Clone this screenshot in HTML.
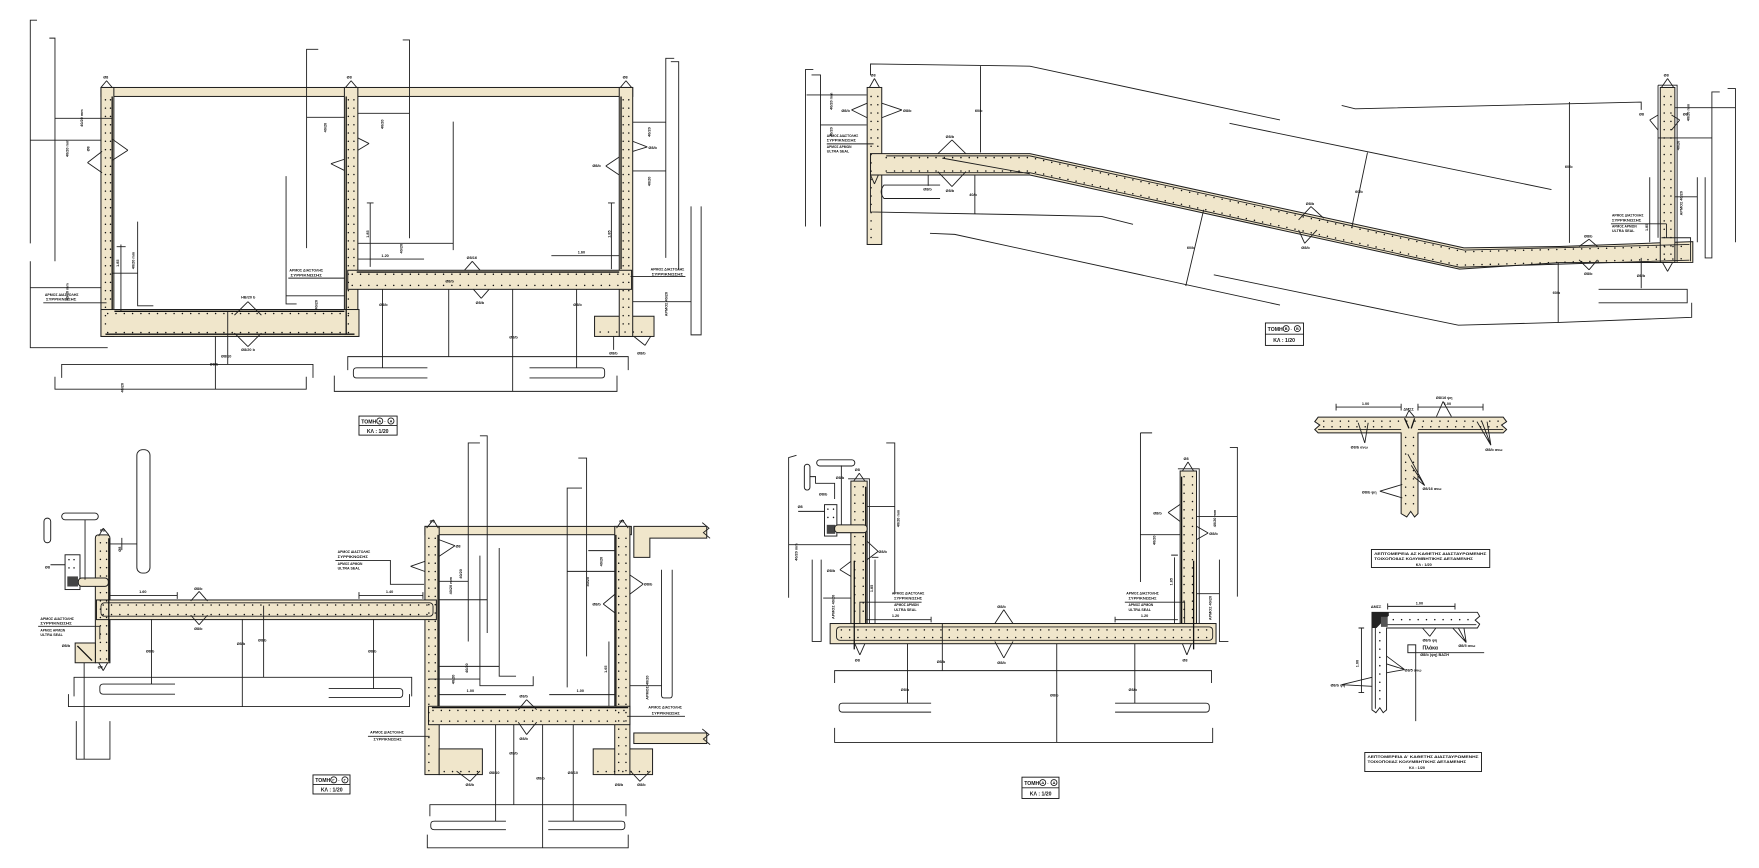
<!DOCTYPE html>
<html><head><meta charset="utf-8"><style>
html,body{margin:0;padding:0;background:#fff;overflow:hidden}
svg{display:block}
.b{fill:#f0e6cb;stroke:#1e1e1e;stroke-width:.9}
.w{fill:#fff;stroke:#1e1e1e;stroke-width:.85}
.l{fill:none;stroke:#1e1e1e;stroke-width:.8}
.k{fill:none;stroke:#111;stroke-width:1.15}
.d{fill:none;stroke:#111;stroke-width:1.35;stroke-linecap:round;stroke-dasharray:0 7.4}
text{font-family:"Liberation Sans","DejaVu Sans",sans-serif;font-size:3.4px;font-weight:bold;fill:#111}
.t5{font-size:4.6px}
.tb{fill:#fff;stroke:#111;stroke-width:.8}
</style></head><body>
<svg xmlns="http://www.w3.org/2000/svg" width="1759" height="868" viewBox="0 0 1568 774" preserveAspectRatio="none">

<!-- ================= SECTION A-A ================= -->
<rect class="b" x="90" y="78" width="474" height="8"/>
<rect class="b" x="90" y="78" width="11.5" height="222"/>
<rect class="b" x="307" y="78" width="12" height="222"/>
<rect class="b" x="530" y="282" width="53" height="18"/>
<rect class="b" x="552" y="78" width="12" height="222"/>
<rect class="b" x="90" y="276" width="230" height="24"/>
<rect class="b" x="310" y="241" width="253" height="17"/>
<path class="d" d="M94,89V296M98.5,89V272M310.5,89V296M315.5,89V238M555.5,89V296M560.5,89V296M96,279.5H316M96,296.5H316M314,244.5H558M314,254.5H558M535,296H579"/>
<path class="k" d="M100,86V276M308.6,86V298M553.6,86V240M318,242.6H552M102,277.6H307M94,298H316"/>
<path class="l" d="M78,145L91,135M78,145L91,154M114,134L100,124M114,134L100,143M329,128L319,123M329,128L319,134M295,146L307,142M295,146L307,152M577,131L564,126M577,131L564,135M540,148L552,140M540,148L552,156M95,72L90,78M95,72L100,78M313,72L308,78M313,72L318,78M558,72L553,78M558,72L563,78M221,269L209,281M221,269L233,281M221,309L209,297M221,309L233,297M421,233L414,241M421,233L428,241M429,266L422,258M429,266L436,258M575,308L565,300M575,308L580,300"/>
<path class="l" d="M33,18H27V217M27,233V310H96M44,34H49V233M49,105.5H99.5M27,125H90.5M27,256.5H90.5M107.8,218V278M104,220H112M122.7,197.6V272.7H136.7M99.5,243.6H122.7M255,157V271H264.4M283.7,44H273.3V221.3M273.3,104.6H307.5M255,263.8H307.5M359,35.6H365V212.4M319,101H365M404,108.4V223M319,217H404M319,231H378M330,181V238M327,181H333M545,181V240M542,181H548M491.5,228H552M601,52H593.5V230M598,55H605V241M616,184V298.6H625V184M564,109H593.5M564,152.4H593.5M564,269H616M192,300V347M203,278V325M55,337V325H279V337M49,336V347H273V336M310,330V318H560V330M298,335V349H550V335M381,328H318Q315,328 315,331V334Q315,337 318,337H381M472,328H536Q539,328 539,331V334Q539,337 536,337H472M341,258V328M400,258V318M457,258V349M514,258V328M547,300V312M38.6,270H95M257,248H307.5M562,246.6H611"/>
<text x="40" y="264" textLength="30" lengthAdjust="spacingAndGlyphs">ΑΡΜΟΣ ΔΙΑΣΤΟΛΗΣ</text>
<text x="41" y="268" textLength="27" lengthAdjust="spacingAndGlyphs">ΣΥΡΡΙΚΝΩΣΗΣ</text>
<text x="258" y="242" textLength="30" lengthAdjust="spacingAndGlyphs">ΑΡΜΟΣ ΔΙΑΣΤΟΛΗΣ</text>
<text x="259" y="246.5" textLength="28" lengthAdjust="spacingAndGlyphs">ΣΥΡΡΙΚΝΩΣΗΣ</text>
<text x="580" y="241" textLength="30" lengthAdjust="spacingAndGlyphs">ΑΡΜΟΣ ΔΙΑΣΤΟΛΗΣ</text>
<text x="581" y="245.5" textLength="28" lengthAdjust="spacingAndGlyphs">ΣΥΡΡΙΚΝΩΣΗΣ</text>
<text x="92" y="70">Ø8</text><text x="309" y="70">Ø8</text><text x="555" y="70">Ø8</text>
<text x="215" y="266">HB/20 b</text><text x="215" y="313">Ø8/20 b</text>
<text x="416" y="231">Ø8/16</text><text x="424" y="271">Ø8/b</text>
<text x="197" y="319">Ø8/10</text><text x="187" y="326">Ø8/b</text>
<text x="338" y="273">Ø8/b</text><text x="397" y="252">Ø8/b</text><text x="454" y="302">Ø8/b</text><text x="511" y="273">Ø8/b</text>
<text x="543" y="316">Ø8/b</text><text x="568" y="316">Ø8/b</text><text x="528" y="149">Ø8/b</text><text x="578" y="133">Ø8/b</text>
<text transform="translate(74,113) rotate(-90)">40/20 mm</text>
<text transform="translate(61,140) rotate(-90)">40/20 mm</text>
<text transform="translate(61,268) rotate(-90)">40/20 mm</text>
<text transform="translate(120,240) rotate(-90)">40/20 mm</text>
<text transform="translate(291,118) rotate(-90)">40/20</text>
<text transform="translate(342,115) rotate(-90)">40/20</text>
<text transform="translate(283,276) rotate(-90)">40/20</text>
<text transform="translate(580,122) rotate(-90)">40/20</text>
<text transform="translate(580,166) rotate(-90)">40/20</text>
<text transform="translate(595,282) rotate(-90)">ΑΡΜΟΣ 40/20</text>
<text transform="translate(359,226) rotate(-90)">40/20</text>
<text transform="translate(106,238) rotate(-90)">1.85</text>
<text transform="translate(329,212) rotate(-90)">1.85</text>
<text transform="translate(544,212) rotate(-90)">1.85</text>
<text x="340" y="229">1.20</text><text x="515" y="226">1.60</text>
<text x="80" y="135" transform="rotate(-90,80,135)">Ø8</text>
<rect class="tb" x="320" y="371" width="34" height="17"/><path class="l" d="M320,379.5H354"/>
<text class="t5" x="322" y="377.6">ΤΟΜΗ</text>
<circle cx="338.5" cy="375.4" r="2.7" class="l"/><text x="337.3" y="376.8">Α</text><text x="342.5" y="376.8">-</text>
<circle cx="348.5" cy="375.4" r="2.7" class="l"/><text x="347.3" y="376.8">Α</text>
<text class="t5" x="327" y="386">ΚΛ : 1/20</text>

<!-- ================= SECTION B-B ================= -->
<rect class="b" x="773" y="78" width="13" height="140"/>
<path class="b" d="M776,137H918L1305,221L1390,219.8L1509,215.5V234L1390,234.2L1301,240L918,156H776Z"/>
<rect class="b" x="1480" y="78" width="13" height="156"/>
<path class="l" d="M1478,76H1495V234M1478,76V212"/>
<path class="d" d="M776.5,86V214M782.5,86V134M1483.5,86V230M1489.5,86V230M790,140.5H918L1305,224.5L1505,219.5M790,152.5H918L1301,236.5L1505,230.5"/>
<path class="l" d="M790,139H918L1305,223L1506,218M790,154H918L1301,238.3L1506,232M1481,212H1507V233M840,141L918,155"/>
<path class="l" d="M725,62H718V202M723.4,66.8H731.4V202M719,84.7H772.5M731.4,111.4H772.5M776,67V57L918,59L1141,107M1096,110L1383,169M1196,94L1208,97L1463,91V98M776,156V189L918,191.6L982,193L1010,200M829,208L851,209L1141,272M1082,245L1300,290L1390,287.5L1508,283V270M1425,258H1504V270H1425M838,165H788Q783,171 788,177H838M874,59V136M869,156V190.7M827.4,156V165.8M1219,136L1205,203M1073,187L1057,255M1399,91V216.6M1470.6,158V216M1463,230V257M1389,234V288M1533,82H1526V230H1520V158M1513,158V216M1540,79H1547V216M1493,96H1547M1478,123H1526M1493,175.5H1513M737,128.3H778.7M1436,199.6H1485.5M1485.5,199.6V212"/>
<path class="l" d="M759,98L773,92M759,98L773,105M804,98L786,92M804,98L786,105M848.6,124.8L836,137M848.6,124.8L861,137M848.6,166.4L836,153M848.6,166.4L861,153M1168.6,184.2L1157.6,196M1168.6,184.2L1180,194.6M1163,217L1157.6,205M1163,217L1174,205M1416.5,213.3L1407.6,219.8M1416.5,213.3L1424,219.8M1416.5,240.6L1407.6,231.7M1416.5,240.6L1424,231.7M1470.6,107L1478,102.5M1470.6,107L1478,116M1497.3,107L1490,102.5M1497.3,107L1490,116M779.5,70L775,78M779.5,70L784,78M1486.5,70L1481,78M1486.5,70L1492,78M1486.5,242L1482,234M1486.5,242L1491,234M779.5,164L776,156M779.5,164L783,156"/>
<text x="737" y="122" textLength="28" lengthAdjust="spacingAndGlyphs">ΑΡΜΟΣ ΔΙΑΣΤΟΛΗΣ</text>
<text x="737" y="126" textLength="26" lengthAdjust="spacingAndGlyphs">ΣΥΡΡΙΚΝΩΣΗΣ</text>
<text x="737" y="132" textLength="22" lengthAdjust="spacingAndGlyphs">ΑΡΜΟΣ ΑΡΜΩΝ</text>
<text x="737" y="136" textLength="20" lengthAdjust="spacingAndGlyphs">ULTRA SEAL</text>
<text x="1437" y="193" textLength="28" lengthAdjust="spacingAndGlyphs">ΑΡΜΟΣ ΔΙΑΣΤΟΛΗΣ</text>
<text x="1437" y="197.5" textLength="26" lengthAdjust="spacingAndGlyphs">ΣΥΡΡΙΚΝΩΣΗΣ</text>
<text x="1437" y="203" textLength="22" lengthAdjust="spacingAndGlyphs">ΑΡΜΟΣ ΑΡΜΩΝ</text>
<text x="1437" y="207" textLength="20" lengthAdjust="spacingAndGlyphs">ULTRA SEAL</text>
<text x="776" y="68">Ø8</text><text x="1483" y="68">Ø8</text>
<text x="750" y="100">Ø8/b</text><text x="805" y="100">Ø8/b</text>
<text x="843" y="123">Ø8/b</text><text x="843" y="171">Ø8/b</text>
<text x="1164" y="183">Ø8/b</text><text x="1160" y="222">Ø8/b</text>
<text x="1412" y="212">Ø8/b</text><text x="1412" y="245">Ø8/b</text>
<text x="1461" y="103">Ø8</text><text x="1500" y="103">Ø8</text>
<text x="869" y="100">60/b</text><text x="864" y="175">40/b</text><text x="823" y="170">Ø8/b</text>
<text x="1208" y="172">60/b</text><text x="1058" y="222">60/b</text>
<text x="1395" y="150">60/b</text><text x="1384" y="262">60/b</text><text x="1459" y="247">Ø8/b</text>
<text transform="translate(742,98) rotate(-90)">40/20 mm</text>
<text transform="translate(742,122) rotate(-90)">40/20</text>
<text transform="translate(1506,108) rotate(-90)">40/20 mm</text>
<text transform="translate(1497,134) rotate(-90)">40/20</text>
<text transform="translate(1500,192) rotate(-90)">ΑΡΜΟΣ 40/20</text>
<text transform="translate(1469,206) rotate(-90)">1.85</text>
<rect class="tb" x="1128" y="288" width="34" height="20"/><path class="l" d="M1128,298H1162"/>
<text class="t5" x="1130" y="295">ΤΟΜΗ</text>
<circle cx="1146.5" cy="293" r="2.7" class="l"/><text x="1145.3" y="294.3">Β</text><text x="1150.5" y="294.3">-</text>
<circle cx="1156.5" cy="293" r="2.7" class="l"/><text x="1155.3" y="294.3">Β</text>
<text class="t5" x="1135" y="305">ΚΛ : 1/20</text>

<!-- ================= SECTION C-C ================= -->
<rect class="b" x="378.8" y="469.4" width="184" height="7.4"/>
<rect class="b" x="378.8" y="469.4" width="12.7" height="221.3"/>
<rect class="b" x="391.5" y="667.8" width="38.5" height="22.9"/>
<rect class="b" x="528.8" y="667.8" width="52.9" height="22.9"/>
<rect class="b" x="548" y="469.4" width="13.5" height="221.3"/>
<rect class="b" x="382" y="629.8" width="179.5" height="16.4"/>
<path class="b" d="M565,469.4H630V479.8H579.3V497H565Z"/>
<rect class="b" x="565" y="653.6" width="65" height="9.4"/>
<path class="l" d="M626,466L632,471L627,475L633,480M626,650L632,655L627,659L633,664"/>
<path class="b" d="M85,480Q85,477 88,477H95Q98,477 98,480V591H85Z"/>
<path class="b" d="M67,573.4H85V591H67Z"/>
<path class="k" d="M69,576L82,589"/>
<rect class="b" x="86" y="535" width="303" height="17.5"/>
<rect class="l" x="90" y="537.5" width="296" height="12" rx="3"/>
<path class="d" d="M382.3,480V688M388,480V628M551.5,480V688M558,480V688M92,539.5H384M92,548H384M386,633.5H558M386,643H558M89.5,484V588M95,484V588M396,688H428M533,688H578"/>
<path class="k" d="M390.5,477V630M549,477V630M385,631H560M97,480V590"/>
<rect class="w" x="122" y="401" width="11.7" height="110" rx="5"/>
<rect class="w" x="55" y="457.5" width="32.6" height="6" rx="3"/>
<rect class="w" x="39.2" y="462" width="6" height="22" rx="3"/>
<rect class="w" x="58" y="494.7" width="13.3" height="31"/>
<path class="d" d="M61.5,499V512M66,499V512"/>
<rect x="60" y="514" width="9.5" height="9" fill="#444"/>
<rect class="b" x="69.8" y="515.4" width="26.8" height="7.5" rx="3"/>
<path class="l" d="M75.8,463.5V517M45,503.6H58M98,485H122M108.6,479.6V490.5M68,643V677H98V643M75,591V677M66,621V604H367V621M61,619V630H365V619M156,610H92Q89,610 89,613V616Q89,619 92,619H156M293,614H356Q359,614 359,617V619Q359,622 356,622H293M135,552V610M216,552V630M235,540V604M333,552V614M98,531H158M320,531H377M98,528V534M158,528V534M320,528V534M377,528V534M34,558.5H89M89,558.5V570M299,499.7H348V521H378"/>
<path class="l" d="M427.8,395H417.4V572M427.8,388.6H434.3V564.5M427.8,495.5V611.4H475.3V603M445,488.7V603H460M515.5,408.5H522.9V585.3M518.8,435.2H505.6V612.9M589.7,508V620Q589.7,622.4 592,622.4H597Q599.2,622.4 599.2,620V508M391.5,518.4H417.4M391.5,534.8H434.3M391.5,594.2H445M382,605.5H427.8M391.5,619.4H451M489.6,619.4H548M524.4,491H548M505.6,509.5H548M561.5,611.4H589.7M542.8,572V629.8M383.2,727.9V717.5H558V727.9M380.9,744.2V756H560V744.2M451,732.3H387Q384,732.3 384,735V737Q384,739.8 387,739.8H451M488.7,732.3H554Q557,732.3 557,735V737Q557,739.8 554,739.8H488.7M441.8,646V732.3M458,646V717.5M483.7,646V756M511,646V732.3M328,656.6H383M559,638.7H610.6"/>
<path class="l" d="M405.5,486.6L391.5,481.3M405.5,486.6L391.5,496M366,505L378.5,500.6M366,505L378.5,509.5M573.4,520.8L561.2,512.5M573.4,520.8L561.2,530M537.7,538.6L548,530M537.7,538.6L548,546.4M386.2,463.5L380.3,470.9M386.2,463.5L390.7,470.9M554.8,463.5L549.6,470.9M554.8,463.5L560,470.9M469.4,623.9L462,632.8M469.4,623.9L478.4,632.8M469.4,655L462,644M469.4,655L478.4,644M419,696.7L407,687.6M419,696.7L427.8,687.6M570.4,696.7L562,687.6M570.4,696.7L579.8,687.6M177.5,527.4L170,536M177.5,527.4L185,536M177.5,557L170,548.5M177.5,557L185,548.5M92,471L88,478M92,471L97,477M92,598L88,591M92,598L96,591"/>
<text x="36" y="553" textLength="30" lengthAdjust="spacingAndGlyphs">ΑΡΜΟΣ ΔΙΑΣΤΟΛΗΣ</text>
<text x="36" y="557" textLength="28" lengthAdjust="spacingAndGlyphs">ΣΥΡΡΙΚΝΩΣΗΣ</text>
<text x="36" y="563" textLength="22" lengthAdjust="spacingAndGlyphs">ΑΡΜΟΣ ΑΡΜΩΝ</text>
<text x="36" y="567" textLength="20" lengthAdjust="spacingAndGlyphs">ULTRA SEAL</text>
<text x="301" y="493" textLength="29" lengthAdjust="spacingAndGlyphs">ΑΡΜΟΣ ΔΙΑΣΤΟΛΗΣ</text>
<text x="301" y="497.5" textLength="27" lengthAdjust="spacingAndGlyphs">ΣΥΡΡΙΚΝΩΣΗΣ</text>
<text x="301" y="504" textLength="22" lengthAdjust="spacingAndGlyphs">ΑΡΜΟΣ ΑΡΜΩΝ</text>
<text x="301" y="508" textLength="20" lengthAdjust="spacingAndGlyphs">ULTRA SEAL</text>
<text x="330" y="654" textLength="30" lengthAdjust="spacingAndGlyphs">ΑΡΜΟΣ ΔΙΑΣΤΟΛΗΣ</text>
<text x="333" y="660.5" textLength="25" lengthAdjust="spacingAndGlyphs">ΣΥΡΡΙΚΝΩΣΗΣ</text>
<text x="578" y="632" textLength="30" lengthAdjust="spacingAndGlyphs">ΑΡΜΟΣ ΔΙΑΣΤΟΛΗΣ</text>
<text x="581" y="637.3" textLength="25" lengthAdjust="spacingAndGlyphs">ΣΥΡΡΙΚΝΩΣΗΣ</text>
<text x="89" y="474">Ø8</text><text x="383" y="466">Ø8</text><text x="552" y="466">Ø8</text>
<text x="173" y="526">Ø8/b</text><text x="173" y="562">Ø8/b</text><text x="463" y="622">Ø8/b</text><text x="463" y="660">Ø8/b</text>
<text x="415" y="701">Ø8/b</text><text x="568" y="701">Ø8/b</text><text x="548" y="701">Ø8/b</text>
<text x="406" y="488">Ø8</text><text x="574" y="522">Ø8/b</text><text x="528" y="540">Ø8/b</text>
<text x="40" y="507">Ø8</text><text x="55" y="577">Ø8/b</text><text x="87" y="596">Ø8</text>
<text x="130" y="582">Ø8/b</text><text x="211" y="575">Ø8/b</text><text x="230" y="572">Ø8/b</text><text x="328" y="582">Ø8/b</text>
<text x="436" y="690">Ø8/10</text><text x="454" y="673">Ø8/b</text><text x="478" y="695">Ø8/b</text><text x="506" y="690">Ø8/10</text>
<text x="124" y="529">1.60</text><text x="344" y="529">1.40</text><text x="416" y="617">1.00</text><text x="514" y="617">1.00</text>
<text transform="translate(403,530) rotate(-90)">40/20 mm</text>
<text transform="translate(412,516) rotate(-90)">40/20</text>
<text transform="translate(417,600) rotate(-90)">40/20</text>
<text transform="translate(405,610) rotate(-90)">40/20</text>
<text transform="translate(537,505) rotate(-90)">40/20</text>
<text transform="translate(525,523) rotate(-90)">40/20</text>
<text transform="translate(541,600) rotate(-90)">1.65</text>
<text transform="translate(578,624) rotate(-90)">ΑΡΜΟΣ 40/20</text>
<text transform="translate(110,350) rotate(-90)">40/20</text>
<text transform="translate(108,492) rotate(-90)">Ø8</text>
<rect class="tb" x="279" y="691" width="33" height="17"/><path class="l" d="M279,699.5H312"/>
<text class="t5" x="281" y="697.5">ΤΟΜΗ</text>
<circle cx="297.5" cy="695.4" r="2.7" class="l"/><text x="296.3" y="696.8">Γ</text><text x="301.5" y="696.8">-</text>
<circle cx="307.5" cy="695.4" r="2.7" class="l"/><text x="306.3" y="696.8">Γ</text>
<text class="t5" x="286" y="706">ΚΛ : 1/20</text>

<!-- ================= SECTION D-D ================= -->
<rect class="b" x="758.5" y="429" width="14.5" height="127"/>
<rect class="b" x="1052" y="420" width="14.6" height="136"/>
<path class="l" d="M756,427H775V556M1050,418H1069V556"/>
<rect class="b" x="740" y="556" width="344" height="18"/>
<rect class="l" x="745.7" y="559" width="335.3" height="12" rx="3"/>
<path class="d" d="M762,434V552M769.5,434V552M1055.5,425V552M1063,425V552M750,561.7H1078M750,568.5H1078"/>
<path class="k" d="M771.7,434V556M1053.3,425V556M761.5,500V579M1064,500V579"/>
<rect class="w" x="728" y="410" width="34" height="5.5" rx="2.7"/>
<rect class="w" x="717" y="414" width="5" height="23" rx="2.5"/>
<rect class="w" x="735" y="450" width="11" height="28"/>
<path class="d" d="M738,454V466M743,454V466"/>
<rect x="737" y="468" width="7.5" height="8" fill="#444"/>
<rect class="b" x="744" y="468" width="29" height="7" rx="3"/>
<path class="l" d="M750,415V468M722,425H727V431H744V445M711.5,456H735M710,406L703,408V533M724,499V572H732V499M790,395H797.6V530M1016.6,386H1027M1016.6,386V519M1096.3,399H1103V532M1087,499V572H1095M773,451.6H797.6M703,485.7H758.5M733.8,533.3H758.5M1016.6,476.8H1052M1066.6,460.5H1103M1066.6,529.4H1087M780,499V556M1047,497V556M772,552.6H830M994,552.6H1050M744,609V598H1080V609M744,649V662H1081V649M830,627H751Q748,627 748,630V632Q748,635 751,635H830M994,627H1075Q1078,627 1078,630V632Q1078,635 1075,635H994M809,574V627M840,556V598M942,574V662M1011.6,574V627M821.5,537H766.5V556M1002.7,537H1056V556M777,497H783M1044,495H1050M830,550V555M994,550V555"/>
<path class="l" d="M894.8,543.7L886.8,556M894.8,543.7L903,556M894.8,586.7L886.8,572M894.8,586.7L903,572M1041.3,457L1052,449.8M1041.3,457L1052,465M1077,475.3L1066.6,469.3M1077,475.3L1066.6,481.2M782.8,491.7L773,482.7M782.8,491.7L773,499M748.7,508L758.5,500.6M748.7,508L758.5,514M766,422L761,429M766,422L771,429M1059,412L1054,420M1059,412L1064,420M766.5,584L762,574M766.5,584L771,574M1058,584L1054,574M1058,584L1062,574"/>
<text x="795" y="530" textLength="29" lengthAdjust="spacingAndGlyphs">ΑΡΜΟΣ ΔΙΑΣΤΟΛΗΣ</text>
<text x="797" y="534.5" textLength="25" lengthAdjust="spacingAndGlyphs">ΣΥΡΡΙΚΝΩΣΗΣ</text>
<text x="797" y="540.5" textLength="22" lengthAdjust="spacingAndGlyphs">ΑΡΜΟΣ ΑΡΜΩΝ</text>
<text x="797" y="545" textLength="20" lengthAdjust="spacingAndGlyphs">ULTRA SEAL</text>
<text x="1004" y="530" textLength="29" lengthAdjust="spacingAndGlyphs">ΑΡΜΟΣ ΔΙΑΣΤΟΛΗΣ</text>
<text x="1006" y="534.5" textLength="25" lengthAdjust="spacingAndGlyphs">ΣΥΡΡΙΚΝΩΣΗΣ</text>
<text x="1006" y="540.5" textLength="22" lengthAdjust="spacingAndGlyphs">ΑΡΜΟΣ ΑΡΜΩΝ</text>
<text x="1006" y="545" textLength="20" lengthAdjust="spacingAndGlyphs">ULTRA SEAL</text>
<text x="762" y="420">Ø8</text><text x="1055" y="410">Ø8</text><text x="762" y="590">Ø8</text><text x="1054" y="590">Ø8</text>
<text x="889" y="542">Ø8/b</text><text x="889" y="592">Ø8/b</text>
<text x="1028" y="459">Ø8/b</text><text x="1078" y="477">Ø8/b</text><text x="783" y="493">Ø8/b</text><text x="737" y="510">Ø8/b</text>
<text x="711" y="453">Ø8</text><text x="745" y="427">Ø8/b</text><text x="730" y="442">Ø8/b</text>
<text x="803" y="616">Ø8/b</text><text x="835" y="591">Ø8/b</text><text x="936" y="621">Ø8/b</text><text x="1006" y="616">Ø8/b</text>
<text x="795" y="550">1.20</text><text x="1017" y="550">1.20</text>
<text transform="translate(802,470) rotate(-90)">40/20 mm</text>
<text transform="translate(711,500) rotate(-90)">40/20 mm</text>
<text transform="translate(744,552) rotate(-90)">ΑΡΜΟΣ 40/20</text>
<text transform="translate(1030,486) rotate(-90)">40/20</text>
<text transform="translate(1084,470) rotate(-90)">40/20 mm</text>
<text transform="translate(1080,553) rotate(-90)">ΑΡΜΟΣ 40/20</text>
<text transform="translate(778,528) rotate(-90)">1.85</text>
<text transform="translate(1045,522) rotate(-90)">1.85</text>
<rect class="tb" x="911" y="693" width="33" height="19"/><path class="l" d="M911,702.5H944"/>
<text class="t5" x="913" y="700">ΤΟΜΗ</text>
<circle cx="929.5" cy="697.8" r="2.7" class="l"/><text x="928.3" y="699.2">Δ</text><text x="933.5" y="699.2">-</text>
<circle cx="939.5" cy="697.8" r="2.7" class="l"/><text x="938.3" y="699.2">Δ</text>
<text class="t5" x="918" y="709.5">ΚΛ : 1/20</text>

<!-- ================= DETAIL T ================= -->
<path class="b" d="M1175,372H1340L1343,376L1338.5,379L1343,383L1340,386H1264V458L1261,461L1257.5,456L1254,461L1249,458V386H1175L1172,383L1176.5,379L1172,376Z"/>
<path class="l" d="M1175,383H1249M1264,383H1340"/>
<path class="d" d="M1180,375.5H1336M1180,380.5H1246M1268,380.5H1336M1253,390V455M1260,390V455"/>
<path class="k" d="M1252,373L1256,382M1261,373L1258,382"/>
<path class="l" d="M1191,363H1249M1264,363H1322M1191,360V366M1249,360V366M1264,360V366M1322,360V366M1216.6,395L1210.7,377M1216.6,395L1219.6,377M1329,397L1316.6,376M1329,397L1321,376M1329,397L1325.6,376M1286.4,358L1280.5,371.4M1286.4,358L1293.8,371.4M1270,433L1255,405M1270,433L1258,415M1270,433L1260,425M1230,438L1250,432M1230,438L1250,444M1256,366L1253,372M1256,366L1261,372"/>
<text x="1214" y="361">1.00</text><text x="1287" y="361">1.00</text>
<text x="1280" y="356">Ø8/16 ψη</text><text x="1251" y="366">ΔΜΣΣ</text>
<text x="1204" y="400">Ø8/b ανω</text><text x="1324" y="402">Ø8/b ανω</text>
<text x="1268" y="437">Ø8/16 ανω</text><text x="1214" y="440">Ø8/b ψη</text>
<rect class="tb" x="1222.5" y="490" width="105.5" height="16"/>
<text x="1225" y="495" textLength="100" lengthAdjust="spacingAndGlyphs">ΛΕΠΤΟΜΕΡΕΙΑ ΑΣ ΚΑΘΕΤΗΣ ΔΙΑΣΤΑΥΡΩΜΕΝΗΣ</text>
<text x="1225" y="499.5" textLength="88" lengthAdjust="spacingAndGlyphs">ΤΟΙΧΟΠΟΙΙΑΣ ΚΟΛΥΜΒΗΤΙΚΗΣ ΔΕΞΑΜΕΝΗΣ</text>
<text x="1262" y="504.5">ΚΛ : 1/20</text>

<!-- ================= DETAIL L ================= -->
<path class="w" d="M1223,546H1317L1319,549.5L1315,553L1319,556.5L1317,560H1236V633L1233,635.5L1230,631L1226.5,635.5L1223,633Z"/>
<path class="l" d="M1236,557H1316M1226,560V632"/>
<path d="M1223,546H1238V549L1227,560H1223Z" fill="#222"/>
<rect x="1231" y="550" width="6" height="9" fill="#555"/>
<path class="d" d="M1242,552.5H1312M1230,564V630"/>
<path class="l" d="M1237,540.7H1297M1237,538V543.5M1297,538V543.5M1213.6,560V617.6M1211,560H1216M1211,617.6H1216"/>
<rect class="w" x="1255" y="575" width="7" height="7"/>
<path class="l" d="M1262,582V643M1262,582H1323M1274.5,567.4L1268,560M1274.5,567.4L1280,560M1307,573L1295,560M1307,573L1300,560M1307,573L1305,560M1252,597L1236,585M1252,597L1236,592M1252,597L1236,600M1196,610.5L1223,604M1196,610.5L1223,612"/>
<text x="1262" y="539">1.00</text><text x="1222" y="542">ΔΜΣΣ</text>
<text transform="translate(1211,595) rotate(-90)">1.00</text>
<text x="1268" y="572">Ø8/b ψη</text><text x="1300" y="577">Ø8/5 ανω</text>
<text x="1268" y="579" class="t5">Πλάκα</text><text x="1266" y="585">Ø8/b (ψη) ΒΑΣΗ</text>
<text x="1252" y="599">Ø8/5 ανω</text><text x="1186" y="612">Ø8/b ψη</text>
<rect class="tb" x="1216.6" y="671" width="104" height="17"/>
<text x="1219" y="676" textLength="99" lengthAdjust="spacingAndGlyphs">ΛΕΠΤΟΜΕΡΕΙΑ Α' ΚΑΘΕΤΗΣ ΔΙΑΣΤΑΥΡΩΜΕΝΗΣ</text>
<text x="1219" y="680.5" textLength="88" lengthAdjust="spacingAndGlyphs">ΤΟΙΧΟΠΟΙΙΑΣ ΚΟΛΥΜΒΗΤΙΚΗΣ ΔΕΞΑΜΕΝΗΣ</text>
<text x="1256" y="685.5">ΚΛ : 1/20</text>
</svg>
</body></html>
